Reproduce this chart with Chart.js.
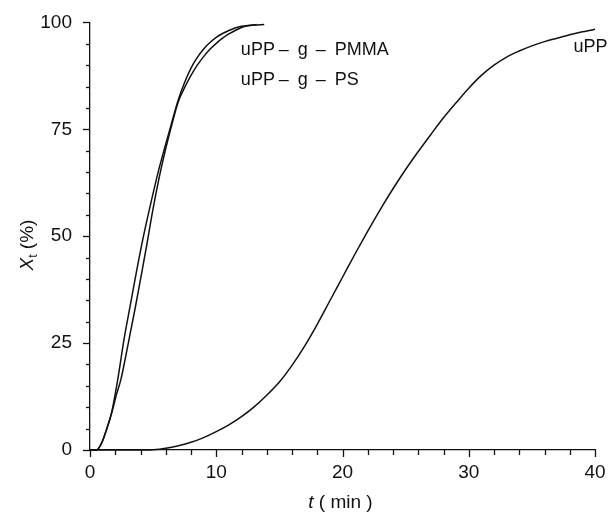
<!DOCTYPE html>
<html>
<head>
<meta charset="utf-8">
<script src="https://cdn.jsdelivr.net/npm/chart.js@4/dist/chart.umd.min.js"></script>
<style>
  html, body { margin: 0; padding: 0; background: #fff; }
  #wrap { width: 611px; height: 519px; position: relative; }
</style>
</head>
<body>
<div id="wrap"><canvas id="c" width="611" height="519"></canvas></div>
<script>
// ---- data ----
const pmmaT = [0, 0.5, 0.9, 1.3, 1.7, 2.2, 2.7, 3.2, 3.7, 4.2, 4.8, 5.4, 5.9, 6.4, 7.0, 7.5, 8.0, 8.5, 9.0, 9.5, 10.0, 10.5, 11.0, 11.5, 12.0, 12.5, 13.0, 13.8];
const pmmaX = [0, 0, 1.5, 4.7, 8.6, 16.5, 26, 34, 42, 49.5, 57.5, 65, 70.5, 75.8, 82, 86, 89.3, 91.8, 93.8, 95.3, 96.5, 97.4, 98.1, 98.7, 99.1, 99.3, 99.4, 99.5];

const psT = [0, 0.5, 0.9, 1.3, 1.8, 2.1, 2.45, 2.8, 3.1, 3.6, 4.1, 4.5, 5.0, 5.5, 6.0, 6.5, 7.0, 7.5, 8.0, 8.5, 9.0, 9.5, 10.0, 10.5, 11.0, 11.5, 12.0, 12.5, 13.2];
const psX = [0, 0, 1.5, 4.7, 9.5, 13, 16.5, 21.5, 26, 33.5, 41.5, 48, 56.5, 64, 70.5, 76.3, 81.5, 84.8, 87.6, 90, 92, 93.7, 95.1, 96.3, 97.3, 98.1, 98.8, 99.2, 99.5];

const uppT = [0, 4.5, 5, 6, 7, 8, 9, 10, 11, 12, 13, 14, 15, 16, 17, 18, 19, 20, 21, 22, 23, 24, 25, 26, 27, 28, 29, 30, 31, 32, 33, 34, 35, 36, 37, 38, 39, 40, 40.5];
const uppX = [0, 0, 0.05, 0.4, 1.0, 1.8, 2.9, 4.3, 5.9, 7.8, 10.1, 12.8, 15.9, 19.8, 24.3, 29.4, 34.9, 40.4, 45.9, 51.2, 56.3, 61.1, 65.6, 69.8, 73.8, 77.7, 81.2, 84.6, 87.6, 90.0, 91.9, 93.3, 94.5, 95.5, 96.3, 97.1, 97.8, 98.4, 98.8];

const xTickLabels = [0, 10, 20, 30, 40];
const yTickLabels = [0, 25, 50, 75, 100];

// curve annotations: text pieces, anchor (t, X) for baseline-left
const curveLabels = [
  { t: 11.95, x: 92.3, pieces: [["uPP", 0], ["\u2013", 38], ["g", 57], ["\u2013", 75], ["PMMA", 94]] },
  { t: 11.95, x: 85.3, pieces: [["uPP", 0], ["\u2013", 38], ["g", 57], ["\u2013", 75], ["PS", 94]] },
  { t: 38.3, x: 93.0, pieces: [["uPP", 0]] }
];

const FONT = '"Liberation Sans", Arial, Helvetica, sans-serif';

function pts(ts, xs) { return ts.map((t, i) => ({ x: t, y: xs[i] })); }

const lineStyle = {
  borderColor: '#111',
  borderWidth: 1.5,
  pointRadius: 0,
  fill: false,
  clip: false,
  cubicInterpolationMode: 'monotone'
};

const decorPlugin = {
  id: 'decor',
  afterDraw(chart) {
    const ctx = chart.ctx;
    const xs = chart.scales.x, ys = chart.scales.y;
    ctx.save();
    ctx.strokeStyle = '#111';
    ctx.lineWidth = 1.3;
    // x ticks (outward, below axis)
    for (let v = 0; v <= 40; v += 2) {
      const px = Math.round(xs.getPixelForValue(v)) + 0.5;
      const len = (v % 10 === 0) ? 7 : 5;
      ctx.beginPath();
      ctx.moveTo(px, ys.bottom);
      ctx.lineTo(px, ys.bottom + len);
      ctx.stroke();
    }
    // y ticks (outward, left of axis)
    for (let v = 0; v <= 100; v += 5) {
      const py = Math.round(ys.getPixelForValue(v)) + 0.5;
      const len = (v % 25 === 0) ? 7 : 4;
      ctx.beginPath();
      ctx.moveTo(xs.left, py);
      ctx.lineTo(xs.left - len, py);
      ctx.stroke();
    }
    // curve labels
    ctx.fillStyle = '#111';
    ctx.font = '18px ' + FONT;
    ctx.textBaseline = 'alphabetic';
    ctx.textAlign = 'left';
    curveLabels.forEach(l => {
      const bx = xs.getPixelForValue(l.t), by = ys.getPixelForValue(l.x);
      l.pieces.forEach(p => ctx.fillText(p[0], bx + p[1], by));
    });
    // x axis title: italic t ( min )
    ctx.font = 'italic 19px ' + FONT;
    const tW = ctx.measureText('t').width;
    ctx.font = '19px ' + FONT;
    const rest = ' ( min )';
    const rW = ctx.measureText(rest).width;
    const cx = (xs.left + xs.right) / 2 - 2;
    let sx = cx - (tW + rW) / 2;
    const baseY = 508;
    ctx.font = 'italic 19px ' + FONT;
    ctx.fillText('t', sx, baseY);
    ctx.font = '19px ' + FONT;
    ctx.fillText(rest, sx + tW, baseY);
    // y axis title: italic X, subscript t, (%)
    ctx.save();
    ctx.translate(33, 245);
    ctx.rotate(-Math.PI / 2);
    ctx.font = 'italic 19px ' + FONT;
    const xW = ctx.measureText('X').width;
    ctx.font = '12px ' + FONT;
    const subW = ctx.measureText('t').width;
    ctx.font = '19px ' + FONT;
    const pW = ctx.measureText(' (%)').width;
    let ox = -(xW + subW + pW) / 2;
    ctx.font = 'italic 19px ' + FONT;
    ctx.fillText('X', ox, 0);
    ctx.font = '12px ' + FONT;
    ctx.fillText('t', ox + xW, 4);
    ctx.font = '19px ' + FONT;
    ctx.fillText(' (%)', ox + xW + subW, 0);
    ctx.restore();
    ctx.restore();
  }
};

new Chart(document.getElementById('c'), {
  type: 'line',
  data: {
    datasets: [
      Object.assign({ label: 'uPP-g-PMMA', data: pts(pmmaT, pmmaX) }, lineStyle),
      Object.assign({ label: 'uPP-g-PS', data: pts(psT, psX) }, lineStyle),
      Object.assign({ label: 'uPP', data: pts(uppT, uppX) }, lineStyle)
    ]
  },
  options: {
    responsive: false,
    animation: false,
    devicePixelRatio: 1,
    layout: { padding: { left: 0, right: 16, top: 22, bottom: 0 } },
    plugins: { legend: { display: false }, tooltip: { enabled: false } },
    scales: {
      x: {
        type: 'linear',
        min: 0, max: 40,
        afterFit(s) { s.height = 69; },
        border: { display: true, color: '#111', width: 1.3 },
        grid: { display: true, drawOnChartArea: false, color: 'rgba(0,0,0,0)', tickLength: 7 },
        ticks: {
          stepSize: 10,
          padding: 4,
          color: '#111',
          font: { family: FONT, size: 19 },
          maxRotation: 0,
          callback: v => xTickLabels.includes(v) ? String(v) : ''
        }
      },
      y: {
        type: 'linear',
        min: 0, max: 100,
        afterFit(s) { s.width = 90; },
        border: { display: true, color: '#111', width: 1.3 },
        grid: { display: true, drawOnChartArea: false, color: 'rgba(0,0,0,0)', tickLength: 7 },
        ticks: {
          stepSize: 25,
          padding: 11,
          color: '#111',
          font: { family: FONT, size: 19 },
          callback: v => yTickLabels.includes(v) ? String(v) : ''
        }
      }
    }
  },
  plugins: [decorPlugin]
});
</script>
</body>
</html>
